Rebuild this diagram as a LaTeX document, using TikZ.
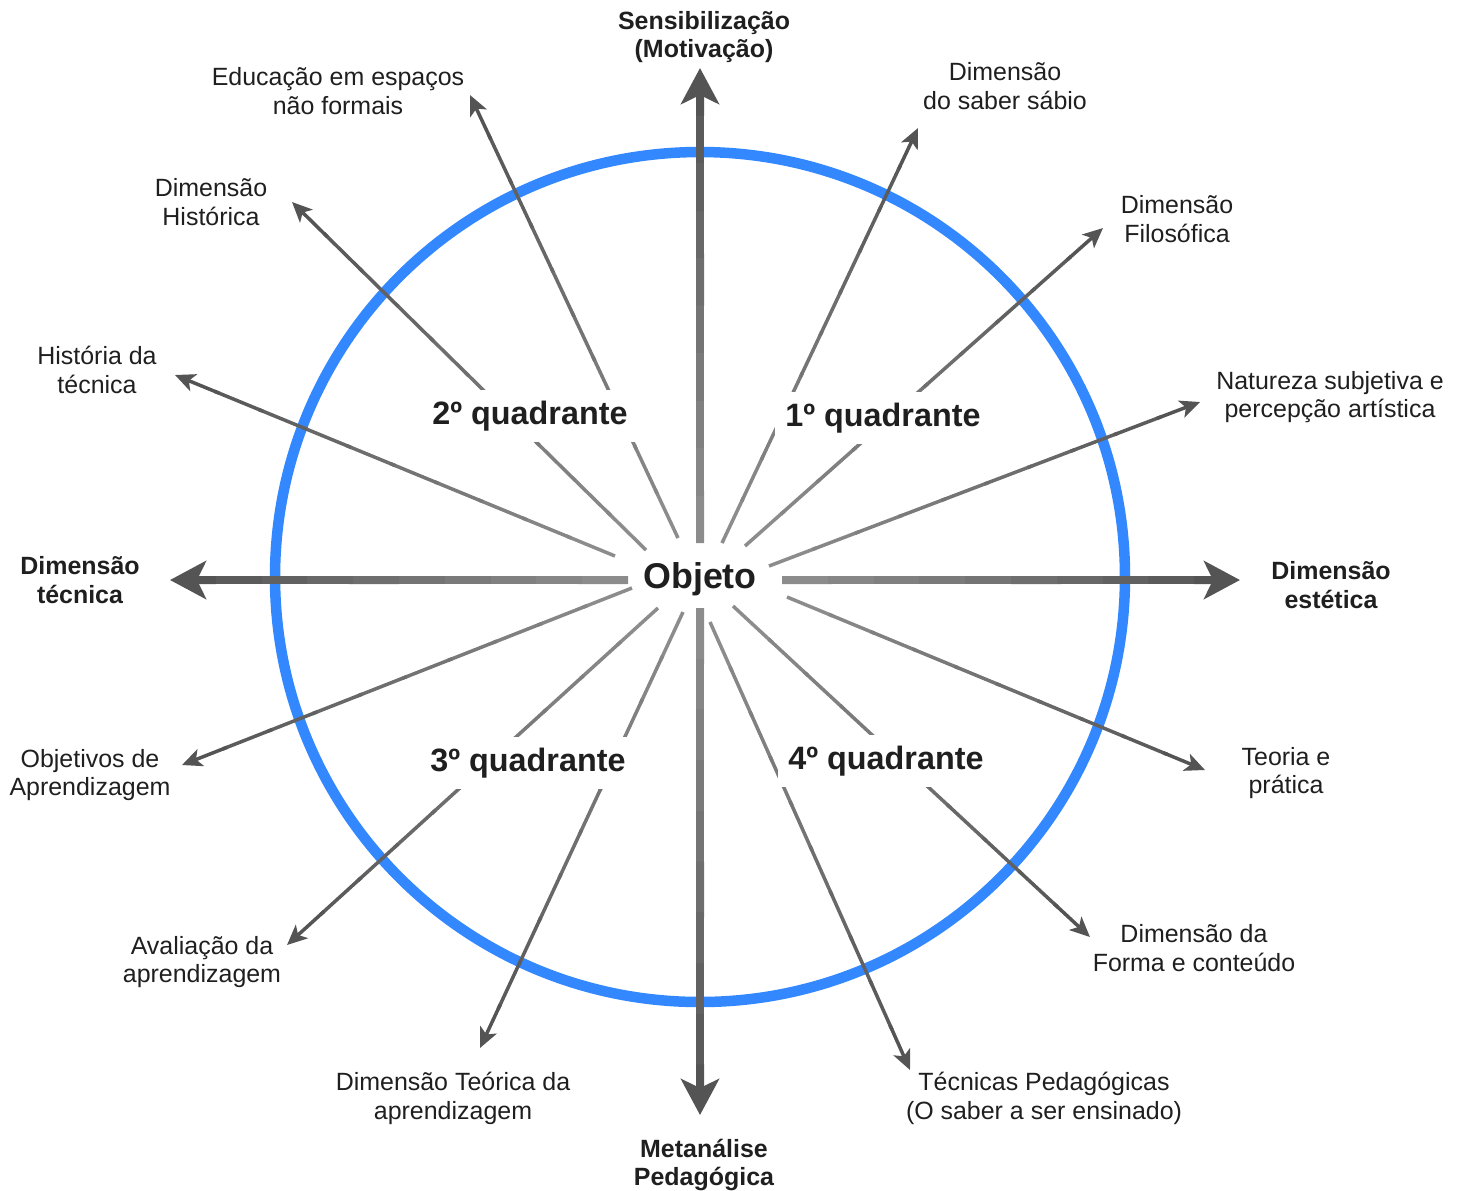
\documentclass[tikz,border=0pt]{standalone}
\usepackage{fontspec}
\setmainfont{Liberation Sans}
\usetikzlibrary{arrows.meta,calc}
\definecolor{ringblue}{RGB}{51,136,255}

\begin{document}
\begin{tikzpicture}
  [x=0.1mm,y=-0.1mm,
   every node/.style={font=\fontsize{7.1}{8.2}\selectfont,align=center,text=black!88},
   axislabel/.style={font=\fontsize{7.1}{8.2}\selectfont\bfseries},
   quadlabel/.style={font=\fontsize{9.2}{11}\selectfont\bfseries,fill=white,inner xsep=1mm,inner ysep=1.1mm},
   spoke/.style={line width=0.35mm},
   axisline/.style={line width=0.8mm}]
  \useasboundingbox (0,0) rectangle (1462,1190);

  \coordinate (centro) at (700,577);
  \draw[ringblue,line width=1.05mm] (centro) circle (42.5mm);

  % ends of the connectors
  \foreach \n/\ax/\ay/\bx/\by in {educ/678/538/470/95, hist/646/550/292/202,
      histtec/615/556/175/375, objet/632/588/182/765, aval/658/608/287/945,
      teor/683/612/480/1048, tecped/710/622/910/1070, forma/733/606/1090/937,
      teoria/787/597/1205/770, natur/769/566/1200/402, filos/745/546/1103/228,
      saber/722/543/918/128, sensib/700/543/700/68, tecnica/628/580/170/580,
      estetica/782/580/1240/580, metan/700/608/700/1115}
  {
    \coordinate (\n-in) at (\ax,\ay);
    \coordinate (\n-out) at (\bx,\by);
  }

  % thin connectors, lighter near the object
  \foreach \n in {educ,hist,histtec,objet,aval,teor,tecped,forma,teoria,natur,filos,saber}
  {
    \foreach \k in {0,...,8}
    {
      \pgfmathsetmacro\gr{45+2.4*\k}
      \pgfmathsetmacro\ta{\k/10}
      \pgfmathsetmacro\tb{(\k+1)/10+0.01}
      \draw[spoke,draw=black!\gr] ($(\n-in)!\ta!(\n-out)$) -- ($(\n-in)!\tb!(\n-out)$);
    }
    \draw[spoke,draw=black!67,-{Stealth[length=2mm,width=1.8mm,inset=0.5mm]}]
      ($(\n-in)!0.9!(\n-out)$) -- (\n-out);
  }

  % the four axes
  \foreach \n in {sensib,tecnica,estetica,metan}
  {
    \foreach \k in {0,...,8}
    {
      \pgfmathsetmacro\gr{45+2.4*\k}
      \pgfmathsetmacro\ta{\k/10}
      \pgfmathsetmacro\tb{(\k+1)/10+0.01}
      \draw[axisline,draw=black!\gr] ($(\n-in)!\ta!(\n-out)$) -- ($(\n-in)!\tb!(\n-out)$);
    }
    \draw[axisline,draw=black!67,-{Stealth[length=3.6mm,width=3.8mm,inset=0.9mm]}]
      ($(\n-in)!0.9!(\n-out)$) -- (\n-out);
  }

  \node[font=\fontsize{10.2}{12}\selectfont\bfseries] (objeto) at (700,579) {Objeto};

  \node[quadlabel] (q1) at (883,418) {1º quadrante};
  \node[quadlabel] (q2) at (530,416) {2º quadrante};
  \node[quadlabel] (q3) at (528,763) {3º quadrante};
  \node[quadlabel] (q4) at (886,761) {4º quadrante};

  \node[axislabel] (sensib-lbl) at (704,37) {Sensibilização\\(Motivação)};
  \node[axislabel] (tecnica-lbl) at (80,580) {Dimensão\\técnica};
  \node[axislabel] (estetica-lbl) at (1331,585) {Dimensão\\estética};
  \node[axislabel] (metan-lbl) at (704,1165) {Metanálise\\Pedagógica};

  \node (educ-lbl) at (338,91) {Educação em espaços\\não formais};
  \node (hist-lbl) at (211,202) {Dimensão\\Histórica};
  \node (histtec-lbl) at (97,370) {História da\\técnica};
  \node (objet-lbl) at (90,775) {Objetivos de\\Aprendizagem};
  \node (aval-lbl) at (202,962) {Avaliação da\\aprendizagem};
  \node (teor-lbl) at (453,1098) {Dimensão Teórica da\\aprendizagem};
  \node (tecped-lbl) at (1044,1098) {Técnicas Pedagógicas\\(O saber a ser ensinado)};
  \node (forma-lbl) at (1194,948) {Dimensão da\\Forma e conteúdo};
  \node (teoria-lbl) at (1286,773) {Teoria e\\prática};
  \node (natur-lbl) at (1330,397) {Natureza subjetiva e\\percepção artística};
  \node (filos-lbl) at (1177,219) {Dimensão\\Filosófica};
  \node (saber-lbl) at (1005,86) {Dimensão\\do saber sábio};
\end{tikzpicture}
\end{document}
